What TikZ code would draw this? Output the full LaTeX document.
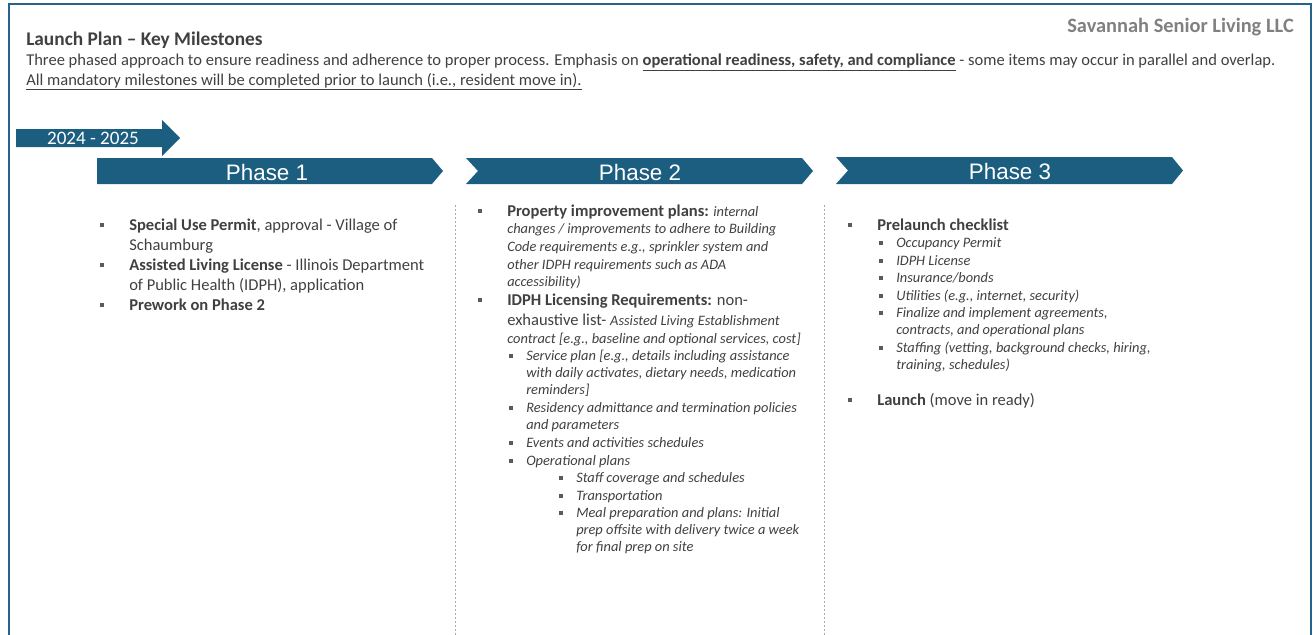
\documentclass[tikz,border=0pt]{standalone}
\usepackage{fontspec}
\setmainfont{Carlito}
\newfontfamily\arialfont{Liberation Sans}
\definecolor{framecol}{RGB}{38,98,140}
\definecolor{arrowcol}{RGB}{27,94,128}
\definecolor{txtcol}{RGB}{64,64,64}
\definecolor{bulletgray}{RGB}{90,90,90}
\definecolor{dashgray}{RGB}{170,170,170}

\tikzset{
  main/.style={anchor=base west,inner sep=0pt,text=txtcol,
    font=\fontsize{12.4}{15}\selectfont},
  sub/.style={anchor=base west,inner sep=0pt,text=txtcol,
    font=\fontsize{10.8}{13.1}\selectfont\itshape},
  mixed/.style={sub,font=\fontsize{10.8}{13.3}\selectfont\itshape},
  main bullet/.style={rectangle,fill=bulletgray,inner sep=0pt,minimum size=3.4pt,
    xshift=-20.3pt,yshift=3.75pt},
  mixed bullet/.style={main bullet},
  sub bullet/.style={rectangle,fill=bulletgray,inner sep=0pt,minimum size=2.9pt,
    xshift=-11.3pt,yshift=3.2pt},
  phaselabel/.style={text=white,font=\arialfont\fontsize{16.8}{18}\selectfont}
}

% one bullet point: name, x, y (first baseline), lines of text
\newcommand\milestone[5][main]{%
  \node[#1] (#2) at (#3,#4) {\begin{tabular}[t]{@{}l@{}}#5\end{tabular}};
  \node[#1 bullet] (#2-b) at (#2.base west) {};
}

\begin{document}
\begin{tikzpicture}[x=0.75pt,y=-0.75pt]
\useasboundingbox (0,0) rectangle (1314,635);

% frame
\draw[framecol,line width=1.5pt] (9,635) -- (9,4) -- (1311,4) -- (1311,635);

% heading
\node[anchor=base east,inner sep=0pt,text=gray,font=\fontsize{15.3}{17}\selectfont\bfseries]
  (company) at (1294,33) {Savannah Senior Living LLC};
\node[anchor=base west,inner sep=0pt,text=txtcol,font=\fontsize{14.5}{16}\selectfont\bfseries]
  (title) at (26,46) {Launch Plan -- Key Milestones};
\node[anchor=base west,inner sep=0pt,text=txtcol,font=\fontsize{12.4}{15}\selectfont]
  (intro) at (26,66) {Three phased approach to ensure readiness and adherence to proper process. Emphasis on \underline{\textbf{operational readiness, safety, and compliance}} - some items may occur in parallel and overlap.};
\node[anchor=base west,inner sep=0pt,text=txtcol,font=\fontsize{12.4}{15}\selectfont]
  (mandatory) at (26,85) {\underline{All mandatory milestones will be completed prior to launch (i.e., resident move in).}};

% year arrow
\fill[arrowcol] (16,129) -- (162,129) -- (162,120) -- (180,138) -- (162,156) -- (162,147) -- (16,147) -- cycle;
\node[text=white,font=\fontsize{14.3}{16}\selectfont] (years) at (93,138) {2024 - 2025};

% phase chevrons
\fill[arrowcol] (97,158) -- (432,158) -- (443,171) -- (432,184) -- (97,184) -- cycle;
\fill[arrowcol] (466,158) -- (802,158) -- (813,171) -- (802,184) -- (466,184) -- (478,171) -- cycle;
\fill[arrowcol] (836,157) -- (1172,157) -- (1183,170.5) -- (1172,184) -- (836,184) -- (848,170.5) -- cycle;
\node[phaselabel] (phase1) at (267,172) {Phase 1};
\node[phaselabel] (phase2) at (640,172) {Phase 2};
\node[phaselabel] (phase3) at (1010,171) {Phase 3};

% column dividers
\draw[dashgray,dash pattern=on 1.5pt off 1.5pt] (455,205) -- (455,635);
\draw[dashgray,dash pattern=on 1.5pt off 1.5pt] (824,205) -- (824,635);

% phase 1
\milestone{p1a}{129}{230}{\textbf{Special Use Permit}, approval - Village of\\Schaumburg}
\milestone{p1b}{129}{270}{\textbf{Assisted Living License} - Illinois Department\\of Public Health (IDPH), application}
\milestone{p1c}{129}{310}{\textbf{Prework on Phase 2}}

% phase 2
\milestone[mixed]{p2a}{507}{216}{{\upshape\bfseries\fontsize{12.4}{13}\selectfont Property improvement plans:} internal\\
  changes / improvements to adhere to Building\\
  Code requirements e.g., sprinkler system and\\
  other IDPH requirements such as ADA\\
  accessibility)}
\milestone{p2b}{507}{305}{\textbf{IDPH Licensing Requirements:} non-\\
  exhaustive list- {\fontsize{10.8}{13}\selectfont\itshape Assisted Living Establishment}\\[-1.5pt]
  {\fontsize{10.8}{13}\selectfont\itshape contract [e.g., baseline and optional services, cost]}}
\milestone[sub]{p2c}{526}{360}{Service plan [e.g., details including assistance\\
  with daily activates, dietary needs, medication\\reminders]}
\milestone[sub]{p2d}{526}{412}{Residency admittance and termination policies\\and parameters}
\milestone[sub]{p2e}{526}{447}{Events and activities schedules}
\milestone[sub]{p2f}{526}{465}{Operational plans}
\milestone[sub]{p2g}{576}{482}{Staff coverage and schedules}
\milestone[sub]{p2h}{576}{500}{Transportation}
\milestone[sub]{p2i}{576}{517}{Meal preparation and plans: Initial\\
  prep offsite with delivery twice a week\\for final prep on site}

% phase 3
\milestone{p3a}{877}{230}{\textbf{Prelaunch checklist}}
\milestone[sub]{p3b}{896}{247}{Occupancy Permit}
\milestone[sub]{p3c}{896}{265}{IDPH License}
\milestone[sub]{p3d}{896}{282}{Insurance/bonds}
\milestone[sub]{p3e}{896}{300}{Utilities (e.g., internet, security)}
\milestone[sub]{p3f}{896}{317}{Finalize and implement agreements,\\contracts, and operational plans}
\milestone[sub]{p3g}{896}{352}{Staffing (vetting, background checks, hiring,\\training, schedules)}
\milestone{p3h}{877}{405}{\textbf{Launch} (move in ready)}
\end{tikzpicture}
\end{document}
